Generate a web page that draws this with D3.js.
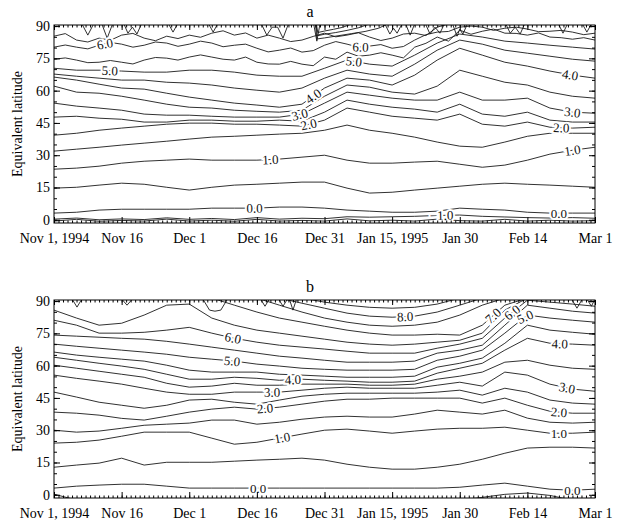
<!DOCTYPE html>
<html>
<head>
<meta charset="utf-8">
<script src="https://cdnjs.cloudflare.com/ajax/libs/d3/7.8.5/d3.min.js"></script>
<style>
body { margin: 0; background: #fff; }
svg text { font-family: "Liberation Serif", "Times New Roman", serif; }
</style>
</head>
<body>
<div id="chart"></div>
<script>
// x axis: days since Nov 1, 1994
var tickDays = [0, 15, 30, 45, 60, 75, 90, 105, 120];
var tickNames = ["Nov 1, 1994", "Nov 16", "Dec 1", "Dec 16", "Dec 31", "Jan 15, 1995", "Jan 30", "Feb 14", "Mar 1"];
var latTicks = [0, 15, 30, 45, 60, 75, 90];
var sampleDays = [0, 5, 10, 15, 20, 25, 30, 35, 40, 45, 50, 55, 60, 65, 70, 75, 80, 85, 90, 95, 100, 105, 110, 115, 120];
var halfDays = [0, 2.5, 5, 7.5, 10, 12.5, 15, 17.5, 20, 22.5, 25, 27.5, 30, 32.5, 35, 37.5, 40, 42.5, 45, 47.5, 50, 52.5, 55, 57.5, 60,
  62.5, 65, 67.5, 70, 72.5, 75, 77.5, 80, 82.5, 85, 87.5, 90, 92.5, 95, 97.5, 100, 102.5, 105, 107.5, 110, 112.5, 115, 117.5, 120];

// panel a: equivalent latitude of each contour level
var a_m15 = [-0.6,0.2,-0.7,-0.3,-0.6,0.3,-0.6,-0.2,-0.7,0.2,-0.6,-0.3,-0.6,0.4,-0.5,-0.2,-0.6,0.3,-0.4,-0.6,0.2,-0.6,-0.2,-0.6,-0.4];
var a_m10 = [0.3,0.8,0.0,0.4,0.1,0.9,0.2,0.6,0.1,1.0,0.3,0.7,0.5,1.4,1.2,1.4,1.6,2.0,2.2,1.6,1.3,1.0,0.8,1.0,0.7];
var a_00 = [3.1,3.5,4.5,4.9,4.9,4.9,4.9,5.4,5.4,5.4,5.9,5.9,5.4,4.5,4.0,3.5,3.5,4.0,5.4,4.9,4.5,3.5,3.1,3.1,3.1];
var a_05 = [14.7,15.1,16.1,17.0,16.5,15.1,13.8,15.1,16.1,16.5,17.0,17.5,17.5,14.7,12.4,12.8,13.8,14.7,15.6,16.5,17.0,16.5,16.1,15.6,15.1];
var a_10 = [23.5,24.0,24.9,26.3,27.2,27.7,28.2,27.7,27.7,27.7,28.2,29.1,30.0,27.7,26.3,26.3,26.8,27.2,25.8,24.4,25.4,27.7,30.5,32.3,33.7];
var a_15 = [31.9,32.8,33.7,34.7,35.6,36.5,37.5,38.4,38.8,39.3,39.8,40.2,41.6,44.0,41.6,40.2,38.4,36.1,34.2,33.7,36.1,38.8,40.2,40.2,40.2];
var a_20 = [39.3,40.2,41.6,42.6,43.5,44.4,44.9,44.9,44.4,44.4,44.0,43.5,46.3,51.9,50.0,48.1,47.2,46.3,49.1,44.4,43.5,45.4,43.0,42.6,43.0];
var a_25 = [47.7,48.1,47.2,46.7,45.4,45.4,46.3,46.3,45.8,45.8,46.3,45.8,50.0,55.6,53.7,52.3,51.4,50.0,53.7,49.1,48.1,50.0,46.3,45.4,45.4];
var a_30 = [54.2,52.8,51.9,50.9,49.1,48.6,48.6,48.1,47.7,47.7,47.7,49.1,54.2,59.3,57.9,56.5,55.6,55.6,59.3,55.6,55.6,56.5,51.9,50.0,49.5];
var a_35 = [62.1,59.3,58.8,57.4,55.6,53.7,52.3,51.9,50.9,50.4,50.0,50.9,57.4,62.6,61.6,59.3,58.4,62.1,69.5,66.7,63.9,62.6,59.3,57.4,56.5];
var a_40 = [66.3,64.9,63.0,61.2,60.7,58.8,57.0,55.6,54.2,53.3,52.3,53.7,61.2,65.8,64.9,62.6,67.2,74.2,79.7,76.5,73.2,71.4,69.1,67.2,65.8];
var a_45 = [67.7,66.7,65.8,64.9,64.9,63.9,63.5,62.6,61.2,60.2,59.3,61.2,65.8,69.5,67.7,66.7,72.3,78.8,83.5,81.6,78.8,77.4,76.0,74.6,73.7];
var a_50 = [70.4,69.5,69.5,69.1,68.6,68.6,69.5,69.5,68.6,67.2,66.7,66.7,70.4,74.2,72.3,71.4,76.5,82.1,86.3,84.9,83.0,82.1,81.1,80.2,79.3];
// the upper levels are read every 2.5 days (they zigzag)
var a_55 = [74.6,75.2,74.2,73.0,73.2,74.0,73.2,72.4,74.2,75.4,75.1,74.2,75.6,76.6,75.6,74.6,74.2,75.6,73.2,72.4,72.3,73.6,72.3,71.6,75.6,
  74.6,77.9,76.0,76.5,77.6,76.5,75.2,80.2,82.0,84.9,83.0,88.1,86.2,87.6,88.6,86.7,86.6,85.8,86.8,84.9,84.6,83.9,84.6,83.5];
var a_60 = [80.2,81.2,80.2,79.4,81.1,82.4,81.6,80.2,81.1,82.6,82.1,80.6,81.6,83.0,82.1,80.4,81.1,81.6,79.7,78.0,78.8,79.8,77.9,78.6,81.1,
  82.8,81.6,80.2,80.7,81.4,79.7,80.5,83.5,86.0,87.2,87.5,89.5,90.0,89.5,88.0,89.0,89.5,88.6,87.4,87.6,88.0,87.2,86.0,86.7];
var a_65 = [85.3,86.5,83.5,82.6,84.4,83.4,85.8,86.6,84.4,83.2,85.3,84.2,85.8,84.8,86.7,87.8,85.8,86.8,84.4,85.8,84.4,82.8,83.5,85.2,86.7,
  85.0,85.8,86.9,84.9,83.3,84.4,86.3,86.7,85.6,89.5,91,91,91,91,91,91,91,91,91,91,91,91,91,91];

// panel a: jagged dips from the pole
var topA_day = [0,6.2,7.5,8.8,10.6,11.8,13.0,15.5,16.4,17.4,18.4,19.4,25.4,26.4,27.4,34.3,35.3,36.3,46.0,47.2,48.4,49.6,50.8,52.0,57.6,58.3,59.0,73.4,74.5,75.3,76.1,77.2,78.0,79.0,80.0,82.4,83.4,84.5,85.6,86.6,88.4,89.4,90.0,90.7,91.7,100.2,101.2,102.3,103.4,104.4,111.9,112.9,113.9,117.2,118.2,119.2];
var topA_lat = [91,91,85.8,91,91,84.4,91,91,86.7,89.5,86.3,91,91,87.2,91,91,87.2,91,91,85.8,89.5,89.5,84.4,91,91,83.0,91,91,86.3,89,86.7,91,91,85.8,91,91,86.3,89.5,86.7,91,91,85.3,88.5,86.3,91,91,86.7,89.5,86.3,91,91,86.7,91,91,87.2,91];
var fanA1_day = [58.0,58.3,60,63,66,69,72,74];
var fanA1_lat = [91,84.0,84.5,85.5,86.5,87.5,89,91];
var fanA2_day = [58.1,58.4,60,62.5,65,67.5,70];
var fanA2_lat = [91,85.5,86.2,87.0,88.0,89.2,91];
var fanA3_day = [58.2,58.5,60,62,64,66];
var fanA3_lat = [91,87.0,87.7,88.5,89.4,91];

// panel b
var b_m05 = [0.3,-2.5,-2.5,-2.5,-2.5,-2.5,-2.5,-2.5,-2.5,-2.5,-2.5,-2.5,-2.5,-2.5,-2.5,-2.5,-2.5,-2.5,-2.5,-1.2,0.2,0.8,-0.3,-2.5,-2.5];
var b_00 = [3.1,4.0,4.5,4.9,4.9,4.0,3.1,3.1,3.1,3.1,3.1,3.1,3.1,3.1,3.1,3.1,3.1,3.1,3.5,4.5,5.4,4.0,2.6,2.1,2.6];
var b_05 = [12.8,13.8,14.7,17.0,13.8,15.1,15.1,15.1,15.6,16.1,16.5,17.0,16.1,14.2,12.8,11.9,11.9,12.8,14.2,16.5,19.3,21.7,22.1,22.1,21.7];
var b_10 = [24.0,24.4,25.4,27.2,29.1,29.1,29.1,26.3,23.5,24.4,26.3,28.2,30.0,30.5,29.6,28.6,29.6,30.5,30.9,30.9,31.4,30.0,28.6,28.6,29.1];
var b_15 = [30.0,29.1,29.6,30.9,32.3,32.8,33.3,34.7,34.7,32.8,33.7,35.1,36.1,36.5,36.1,36.1,37.5,39.3,38.4,37.5,39.3,35.6,33.7,33.3,33.7];
var b_20 = [38.4,37.9,37.0,35.5,34.7,36.5,38.4,39.8,40.7,39.8,40.7,42.1,43.5,44.4,44.4,44.9,44.9,44.9,44.9,42.6,44.9,41.6,38.8,37.9,37.9];
var b_25 = [47.7,45.4,43.0,41.6,40.2,41.6,44.0,44.4,43.0,42.1,44.0,45.8,46.7,47.2,47.2,47.2,47.2,47.7,48.6,46.3,49.5,47.7,44.0,42.6,42.1];
var b_30 = [55.6,54.1,52.8,51.4,49.5,47.7,46.7,46.7,47.7,47.7,47.7,48.6,49.5,50.0,49.5,49.5,49.5,50.9,52.3,50.5,57.0,55.6,51.4,49.1,48.1];
var b_35 = [60.2,58.8,57.4,56.0,54.6,51.8,50.0,50.5,51.8,50.9,50.9,51.4,51.4,51.4,50.9,50.9,51.4,53.7,55.1,57.0,61.6,62.5,60.2,58.8,58.3];
var b_40 = [63.9,62.5,61.1,59.8,58.3,56.0,53.7,53.7,54.6,54.1,53.2,53.7,53.2,52.8,52.3,52.3,52.8,56.5,58.8,61.1,67.2,72.7,70.4,70.0,69.5];
var b_45 = [66.3,64.9,63.9,63.0,62.1,60.2,57.9,57.0,57.0,57.0,56.0,55.6,55.1,54.6,54.6,54.6,55.1,59.3,61.1,63.5,70.4,78.8,76.5,75.5,74.6];
var b_50 = [70.0,69.0,68.1,67.2,66.3,65.3,63.9,63.0,62.1,60.7,59.8,58.8,58.3,57.9,57.9,57.9,58.3,62.5,64.4,67.2,75.1,83.5,82.1,81.1,80.2];
var b_55 = [74.2,73.7,73.2,72.7,72.3,71.3,70.0,68.6,67.2,65.8,64.4,63.5,62.5,61.6,61.6,61.6,62.1,65.8,67.2,69.5,78.8,88.1,86.7,85.3,84.4];
var b_60 = [81.1,78.8,75.1,75.1,75.5,76.5,77.8,75.1,72.7,70.9,69.5,68.6,67.7,66.7,65.8,65.8,65.8,68.1,70.0,72.7,82.1,90.4,89.5,88.6,87.6];
var b_65 = [85.8,82.1,78.8,79.7,83.5,88.1,88.6,82.1,78.8,76.5,75.1,73.7,72.3,70.9,70.0,69.5,70.0,70.9,71.8,75.1,85.8,91.4,91.4,91.4,91.4];
var b_70 = [91.4,91.4,91.4,91.4,91.4,91.4,91.4,91.4,88.1,84.9,82.1,80.2,78.3,76.5,75.1,74.2,74.2,74.6,74.2,78.8,88.1,91.4,91.4,91.4,91.4];
var b_75 = [91.4,91.4,91.4,91.4,91.4,91.4,91.4,91.4,91.4,91.4,88.1,84.9,82.1,80.2,78.8,78.3,78.8,80.2,83.5,88.1,91.4,91.4,91.4,91.4,91.4];
var b_80 = [91.4,91.4,91.4,91.4,91.4,91.4,91.4,91.4,91.4,91.4,91.4,89.0,86.7,84.4,83.0,82.5,83.0,84.9,88.1,91.4,91.4,91.4,91.4,91.4,91.4];
var b_85 = [91.4,91.4,91.4,91.4,91.4,91.4,91.4,91.4,91.4,91.4,91.4,91.4,89.5,88.1,87.1,86.7,87.1,88.6,91.4,91.4,91.4,91.4,91.4,91.4,91.4];

var topB_day = [0,4,5.1,6.2,15,16.2,17.4,33,34.5,35.7,37,38.5,45.8,46.8,47.8,49.8,50.8,51.8,52.2,53.0,53.8,114.8,116,117.2,118.2,119.2,120];
var topB_lat = [91,91,87.2,91,91,88.1,91,91,85.8,85.3,85.8,91,91,87.6,91,91,87.6,91,91,85.8,91,91,86.7,91,91,87.6,91];

// contour labels: [level, day]
var labelsA = [[6,11.3],[5,12.4],[4,57.5],[3,54.5],[2,56.5],[1,48],[0,44.5],[6,68],[5,66.5],[4,114.5],[3,115],[2,112.5],[1,115],[0,112],[-1,86]];
var labelsB = [[6,39.7],[5,39.5],[4,53],[3,48.4],[2,46.8],[1,50.6],[0,45.3],[8,77.9],[7,97.4],[6,101.6],[5,104.5],[4,112.2],[3,113.8],[2,112],[1,112],[0,115]];

var levelsA = [-1.5,-1,0,0.5,1,1.5,2,2.5,3,3.5,4,4.5,5,5.5,6,6.5];
var seriesA = [a_m15,a_m10,a_00,a_05,a_10,a_15,a_20,a_25,a_30,a_35,a_40,a_45,a_50,a_55,a_60,a_65];
var levelsB = [-0.5,0,0.5,1,1.5,2,2.5,3,3.5,4,4.5,5,5.5,6,6.5,7,7.5,8,8.5];
var seriesB = [b_m05,b_00,b_05,b_10,b_15,b_20,b_25,b_30,b_35,b_40,b_45,b_50,b_55,b_60,b_65,b_70,b_75,b_80,b_85];

var serif = "'Liberation Serif', 'Times New Roman', serif";

var svg = d3.select("#chart").append("svg")
  .attr("width", 624)
  .attr("height", 520);

var x = d3.scaleLinear().domain([0, 120]).range([54, 595]);

function gridFor(s) {
  return s.length === halfDays.length ? halfDays : sampleDays;
}

function drawPanel(p) {
  var y = d3.scaleLinear().domain([-1.5, 90.5]).range([p.bottom, p.top]);
  var g = svg.append("g");

  svg.append("clipPath").attr("id", "clip-" + p.name)
    .append("rect")
    .attr("x", 54).attr("y", p.top)
    .attr("width", 541).attr("height", p.bottom - p.top);

  var line = d3.line().x(d => x(d[0])).y(d => y(d[1]));
  var lines = g.append("g").attr("clip-path", "url(#clip-" + p.name + ")");

  p.series.forEach(function(s) {
    var days = gridFor(s);
    lines.append("path")
      .datum(days.map((d, i) => [d, s[i]]))
      .attr("d", line)
      .attr("fill", "none")
      .attr("stroke", "#1a1a1a")
      .attr("stroke-width", 0.9);
  });
  p.extra.forEach(function(e) {
    lines.append("path")
      .datum(e[0].map((d, i) => [d, e[1][i]]))
      .attr("d", line)
      .attr("fill", "none")
      .attr("stroke", "#1a1a1a")
      .attr("stroke-width", 0.9);
  });

  // labels sit on their line, turned along it
  p.labels.forEach(function(l) {
    var s = p.series[p.levels.indexOf(l[0])];
    var interp = d3.scaleLinear().domain(gridFor(s)).range(s);
    var x1 = x(l[1] - 2), y1 = y(interp(l[1] - 2));
    var x2 = x(l[1] + 2), y2 = y(interp(l[1] + 2));
    var ang = Math.atan2(y2 - y1, x2 - x1) * 180 / Math.PI;
    ang = Math.max(-55, Math.min(55, ang));
    lines.append("text")
      .attr("transform", `translate(${x(l[1])},${y(interp(l[1]))}) rotate(${ang})`)
      .attr("text-anchor", "middle")
      .attr("dy", "0.35em")
      .style("font-family", serif)
      .attr("font-size", 13)
      .attr("fill", "#111")
      .attr("stroke", "#fff")
      .attr("stroke-width", 4)
      .attr("paint-order", "stroke")
      .text(d3.format(".1f")(l[0]));
  });

  // frame
  g.append("rect")
    .attr("x", 54).attr("y", p.top)
    .attr("width", 541).attr("height", p.bottom - p.top)
    .attr("fill", "none").attr("stroke", "#000").attr("stroke-width", 1);

  var everyDay = d3.range(0, 121);
  var every5 = d3.range(0, 91, 5);

  g.append("g").attr("transform", `translate(0,${p.bottom})`)
    .call(d3.axisBottom(x).tickValues(everyDay).tickSize(-2.5).tickFormat(""))
    .call(a => a.select(".domain").remove());
  g.append("g").attr("transform", `translate(0,${p.bottom})`)
    .call(d3.axisBottom(x).tickValues(tickDays).tickFormat((d, i) => tickNames[i]).tickSize(-6).tickPadding(10))
    .call(a => a.select(".domain").remove())
    .call(a => a.selectAll("text").attr("font-size", 14).style("font-family", serif));

  g.append("g").attr("transform", `translate(0,${p.top})`)
    .call(d3.axisTop(x).tickValues(everyDay).tickSize(-2.5).tickFormat(""))
    .call(a => a.select(".domain").remove());
  g.append("g").attr("transform", `translate(0,${p.top})`)
    .call(d3.axisTop(x).tickValues(tickDays).tickSize(-5).tickFormat(""))
    .call(a => a.select(".domain").remove());

  g.append("g").attr("transform", "translate(54,0)")
    .call(d3.axisLeft(y).tickValues(every5).tickSize(-3).tickFormat(""))
    .call(a => a.select(".domain").remove());
  g.append("g").attr("transform", "translate(54,0)")
    .call(d3.axisLeft(y).tickValues(latTicks).tickSize(-6).tickPadding(4))
    .call(a => a.select(".domain").remove())
    .call(a => a.selectAll("text").attr("font-size", 14).style("font-family", serif));

  g.append("g").attr("transform", "translate(595,0)")
    .call(d3.axisRight(y).tickValues(every5).tickSize(-3).tickFormat(""))
    .call(a => a.select(".domain").remove());
  g.append("g").attr("transform", "translate(595,0)")
    .call(d3.axisRight(y).tickValues(latTicks).tickSize(-6).tickFormat(""))
    .call(a => a.select(".domain").remove());

  g.append("text")
    .attr("transform", `translate(22,${(p.top + p.bottom) / 2}) rotate(-90)`)
    .attr("text-anchor", "middle")
    .style("font-family", serif)
    .attr("font-size", 14)
    .text("Equivalent latitude");

  g.append("text")
    .attr("x", 310).attr("y", p.top - 8)
    .attr("text-anchor", "middle")
    .style("font-family", serif)
    .attr("font-size", 16)
    .text(p.name);
}

drawPanel({name: "a", top: 25, bottom: 223, series: seriesA, levels: levelsA, labels: labelsA,
  extra: [[topA_day, topA_lat], [fanA1_day, fanA1_lat], [fanA2_day, fanA2_lat], [fanA3_day, fanA3_lat]]});
drawPanel({name: "b", top: 300, bottom: 498, series: seriesB, levels: levelsB, labels: labelsB,
  extra: [[topB_day, topB_lat]]});
</script>
</body>
</html>
